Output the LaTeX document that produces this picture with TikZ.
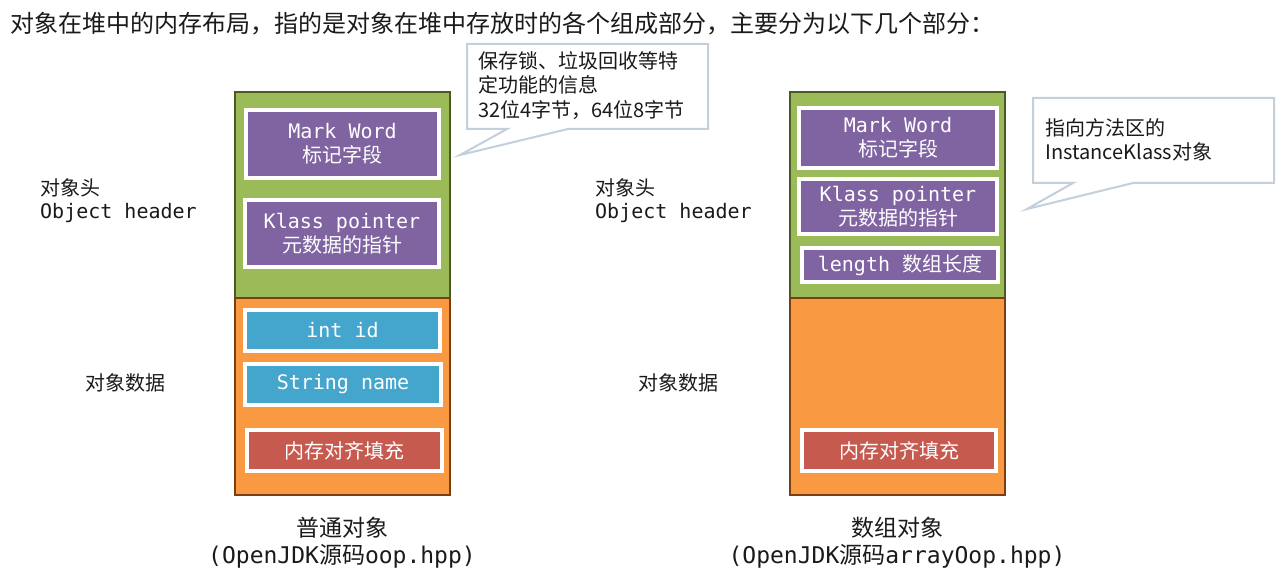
\documentclass[tikz,border=0pt]{standalone}
\usepackage{fontspec}
\setmainfont{Noto Sans CJK SC}
\newfontfamily\cjk{Noto Sans CJK SC}
\newfontfamily\mono{DejaVu Sans Mono}
\usetikzlibrary{shadows}
\definecolor{hdrgreen}{HTML}{9BBB59}
\definecolor{hdrgreenline}{HTML}{4A5A22}
\definecolor{dataorange}{HTML}{F99A42}
\definecolor{dataorangeline}{HTML}{7A3E10}
\definecolor{fieldpurple}{HTML}{8064A2}
\definecolor{fieldblue}{HTML}{45A6CD}
\definecolor{fieldred}{HTML}{C75A4E}
\definecolor{calloutline}{HTML}{C3CFDB}
\definecolor{txt}{HTML}{1A1A1A}
\begin{document}
\begin{tikzpicture}[x=1pt,y=-1pt,
  part/.style={line width=2.2pt},
  fieldbox/.style={draw=white,line width=4pt,text=white,align=center,inner sep=0pt,
    font=\fontsize{20}{24}\selectfont,
    drop shadow={shadow xshift=1.2pt,shadow yshift=-1.5pt,opacity=0.35}},
  lbl/.style={anchor=west,text=txt,inner sep=0pt,font=\fontsize{20}{24}\selectfont},
  captext/.style={text=txt,inner sep=0pt,font=\fontsize{23}{30}\selectfont,align=center},
  calloutbox/.style={draw=calloutline,line width=2pt,fill=white,line join=miter},
  ctext/.style={anchor=north west,text=txt,inner sep=0pt,align=left,font=\fontsize{20}{24.5}\selectfont}
]
\useasboundingbox (0,0) rectangle (1280,577);
\fill[white] (0,0) rectangle (1280,577);

% title
\node[anchor=west,text=txt,inner sep=0pt,font=\fontsize{24}{28}\selectfont] (title) at (10,24)
  {对象在堆中的内存布局，指的是对象在堆中存放时的各个组成部分，主要分为以下几个部分：};

% ---------- left object ----------
\node[part,draw=hdrgreenline,fill=hdrgreen,minimum width=215pt,minimum height=206pt,inner sep=0pt] (lhead) at (342.5,195) {};
\node[part,draw=dataorangeline,fill=dataorange,minimum width=215pt,minimum height=197pt,inner sep=0pt] (ldata) at (342.5,396.5) {};

\node[fieldbox,fill=fieldpurple,minimum width=193pt,minimum height=68pt] (lmw) at (342.5,144) {{\mono Mark Word}\\标记字段};
\node[fieldbox,fill=fieldpurple,minimum width=194pt,minimum height=67pt] (lkp) at (342,233.5) {{\mono Klass pointer}\\元数据的指针};
\node[fieldbox,fill=fieldblue,minimum width=195pt,minimum height=41pt] (lid) at (342.5,330.5) {\mono int id};
\node[fieldbox,fill=fieldblue,minimum width=196pt,minimum height=41pt] (lname) at (343,384.5) {\mono String name};
\node[fieldbox,fill=fieldred,minimum width=195pt,minimum height=41pt] (lpad) at (344.5,450.5) {内存对齐填充};

\node[lbl] (lhl1) at (40,188) {对象头};
\node[lbl] (lhl2) at (40,213) {\mono Object header};
\node[lbl] (ldl) at (85,383) {对象数据};
\node[captext] (lcap1) at (342,528) {普通对象};
\node[captext] (lcap2) at (342,556) {{\mono (OpenJDK}源码{\mono oop.hpp)}};

% ---------- right object ----------
\node[part,draw=hdrgreenline,fill=hdrgreen,minimum width=215pt,minimum height=206pt,inner sep=0pt] (rhead) at (897.5,195) {};
\node[part,draw=dataorangeline,fill=dataorange,minimum width=215pt,minimum height=197pt,inner sep=0pt] (rdata) at (897.5,396.5) {};

\node[fieldbox,fill=fieldpurple,minimum width=198pt,minimum height=60pt] (rmw) at (898,138) {{\mono Mark Word}\\标记字段};
\node[fieldbox,fill=fieldpurple,minimum width=198pt,minimum height=55pt] (rkp) at (898,206.5) {{\mono Klass pointer}\\元数据的指针};
\node[fieldbox,fill=fieldpurple,minimum width=196pt,minimum height=34pt] (rlen) at (900,265) {{\mono length }数组长度};
\node[fieldbox,fill=fieldred,minimum width=194pt,minimum height=41pt] (rpad) at (899,450.5) {内存对齐填充};

\node[lbl] (rhl1) at (595,188) {对象头};
\node[lbl] (rhl2) at (595,213) {\mono Object header};
\node[lbl] (rdl) at (638,383) {对象数据};
\node[captext] (rcap1) at (897,528) {数组对象};
\node[captext] (rcap2) at (897,556) {{\mono (OpenJDK}源码{\mono arrayOop.hpp)}};

% ---------- callout 1 ----------
\coordinate (c1nw) at (467,44);
\coordinate (c1ne) at (708,44);
\coordinate (c1se) at (708,129);
\coordinate (c1sw) at (467,129);
\coordinate (c1bl) at (507,129);
\coordinate (c1br) at (568,129);
\coordinate (c1tip) at (460,155);
\draw[calloutbox] (c1nw) -- (c1ne) -- (c1se) -- (c1br) -- (c1tip) -- (c1bl) -- (c1sw) -- cycle;
\node[ctext] (c1text) at (478,51) {保存锁、垃圾回收等特\\定功能的信息\\32位4字节，64位8字节};

% ---------- callout 2 ----------
\coordinate (c2nw) at (1033,98);
\coordinate (c2ne) at (1274,98);
\coordinate (c2se) at (1274,183);
\coordinate (c2sw) at (1033,183);
\coordinate (c2bl) at (1073,183);
\coordinate (c2br) at (1133,183);
\coordinate (c2tip) at (1027,209);
\draw[calloutbox] (c2nw) -- (c2ne) -- (c2se) -- (c2br) -- (c2tip) -- (c2bl) -- (c2sw) -- cycle;
\node[ctext] (c2text) at (1045,118) {指向方法区的\\InstanceKlass对象};
\end{tikzpicture}
\end{document}
